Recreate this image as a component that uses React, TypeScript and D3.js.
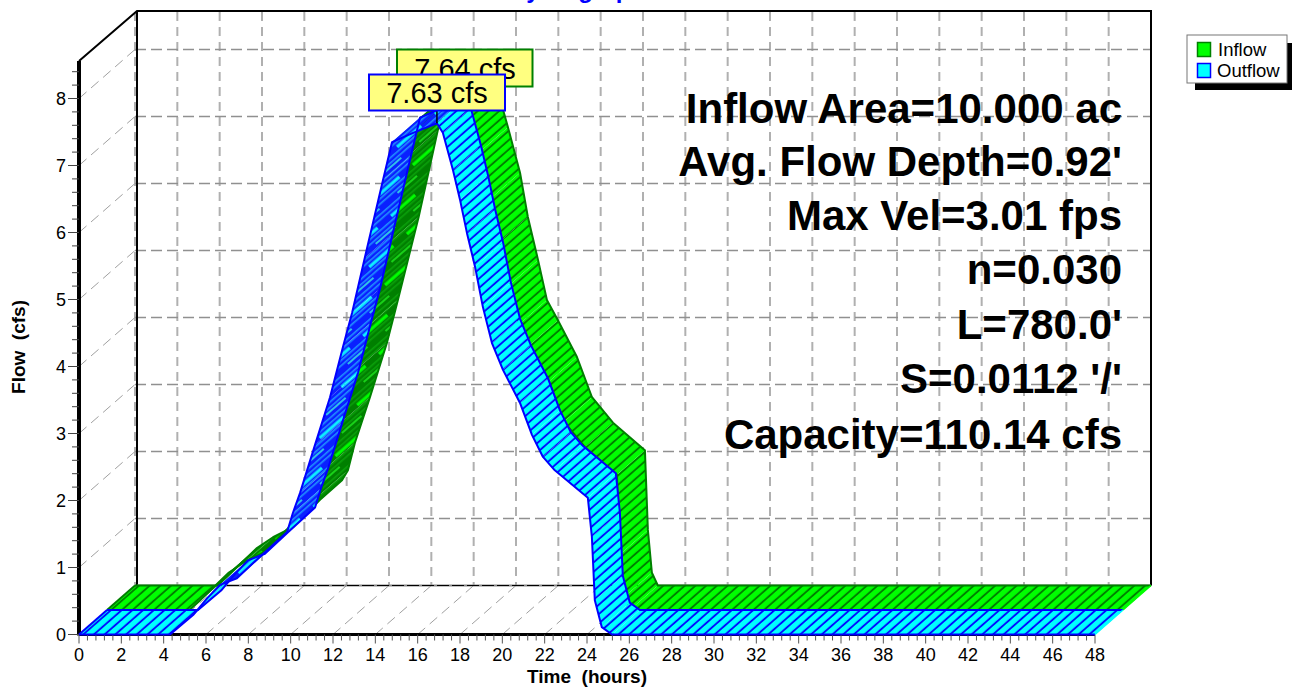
import React from "react";
import * as d3 from "d3";

const outflowT = [0, 4.3, 5.39, 6.05, 6.66, 7.46, 8.55, 9.83, 10.1, 10.44, 11.15, 11.86, 12.47, 12.9, 13.5, 14.36, 14.79, 15.73, 16.91, 17.19, 17.67, 18.0, 18.33, 18.71, 19.08, 19.51, 20.03, 20.83, 21.4, 21.92, 22.48, 24.04, 24.23, 24.37, 24.7, 25.18, 48];
const outflowQ = [0, 0, 0.29, 0.54, 0.74, 0.84, 1.16, 1.53, 1.81, 2.11, 2.83, 3.54, 4.29, 4.8, 5.62, 6.78, 7.35, 7.48, 7.63, 7.49, 6.93, 6.49, 5.99, 5.49, 4.89, 4.35, 3.95, 3.46, 2.98, 2.65, 2.45, 2.04, 1.46, 0.51, 0.11, 0, 0];
const inflowT = [0, 3.9, 4.35, 5.76, 6.52, 7.46, 8.74, 9.78, 10.06, 10.39, 11.1, 11.9, 12.42, 13.4, 14.31, 14.8, 15.73, 16.91, 17.62, 18.19, 18.56, 19.04, 19.46, 19.98, 20.88, 21.59, 22.58, 24.09, 24.23, 24.42, 24.7, 48];
const inflowQ = [0, 0, 0.13, 0.56, 0.72, 0.87, 1.28, 1.57, 1.72, 2.13, 2.81, 3.62, 4.26, 5.5, 6.8, 7.35, 7.48, 7.64, 6.84, 6.16, 5.5, 4.86, 4.26, 3.96, 3.41, 2.81, 2.43, 2.02, 0.83, 0.19, 0, 0];

const xTicks = d3.range(0, 49, 2);
const xMinor = d3.range(0, 48.01, 0.4);
const yTicks = d3.range(0, 9, 1);
const yMinor = d3.range(0, 8.5, 0.2);
const infoLines = ["Inflow Area=10.000 ac", "Avg. Flow Depth=0.92'", "Max Vel=3.01 fps", "n=0.030", "L=780.0'", "S=0.0112 '/'", "Capacity=110.14 cfs"];
const infoBase = [123, 176, 230, 284, 339, 393, 449];

const x = d3.scaleLinear().domain([0, 48]).range([79, 1095]);
const y = d3.scaleLinear().domain([0, 8]).range([634.5, 98.5]);
const DX = 56, DY = -49;
const ANG = -41.2;
const font = "'Liberation Sans', Arial, sans-serif";

function Ribbon({ t, q, off, fill, edge, hatch, dense }: any) {
  const o0 = off, o1 = off + 0.5;
  const p = (i: number, o: number): [number, number] => [x(t[i]) + o * DX, y(q[i]) + o * DY];
  const line = d3.line();
  const front = t.map((_: number, i: number) => p(i, o0));
  const back = t.map((_: number, i: number) => p(i, o1));
  const n = t.length;
  return (
    <g>
      {d3.range(n - 1).map((i) => {
        const poly = [p(i, o0), p(i + 1, o0), p(i + 1, o1), p(i, o1)] as [number, number][];
        const rising = q[i + 1] > q[i];
        return <path key={i} d={line(poly) + "Z"} fill={rising ? `url(#${dense})` : `url(#${hatch})`} stroke="none" />;
      })}
      <path d={line(front) || ""} fill="none" stroke={edge} strokeWidth={2} strokeLinejoin="round" />
      <path d={line(back) || ""} fill="none" stroke={edge} strokeWidth={2} strokeLinejoin="round" />
      <path d={line([p(0, o0), p(0, o1)]) || ""} stroke={edge} strokeWidth={2} />
      <path d={line([p(n - 1, o0), p(n - 1, o1)]) || ""} stroke={fill} strokeWidth={1.5} />
    </g>
  );
}

function Hatch({ id, fill, ink }: any) {
  return (
    <pattern id={id} patternUnits="userSpaceOnUse" width={24} height={7.05} patternTransform={`rotate(${ANG})`}>
      <rect width={24} height={7.05} fill={fill} />
      <rect y={2.5} width={24} height={1.8} fill={ink} />
    </pattern>
  );
}

function Dense({ id, base, streak, streak2, mid }: any) {
  return (
    <pattern id={id} patternUnits="userSpaceOnUse" width={50} height={24} patternTransform={`rotate(${ANG})`}>
      <rect width={50} height={24} fill={base} />
      {[3, 7, 15, 19].map((v) => (
        <rect key={v} y={v} width={50} height={1.6} fill={mid} />
      ))}
      <rect x={2} y={10.5} width={32} height={3.2} fill={streak} />
      <rect x={22} y={22} width={26} height={2} fill={streak2} />
    </pattern>
  );
}

export default function App() {
  const vy0 = y(0), gridC = "#b0b0b0", hC = "#909090";
  const backX = (v: number) => x(v) + DX;
  const backY = (v: number) => y(v) + DY;
  return (
    <svg width={1294} height={688} style={{ position: "absolute", left: 0, top: 0, background: "#fff" }} fontFamily={font}>
      <defs>
        <Hatch id="hG" fill="#00ff00" ink="#007800" />
        <Hatch id="hB" fill="#00ffff" ink="#0000ff" />
        <Dense id="dG" base="#007f00" streak="#00ff00" streak2="#18d018" mid="#0aa00a" />
        <Dense id="dB" base="#0a20ff" streak="#0ff0ff" streak2="#30c0e8" mid="#2090ff" />
      </defs>

      <text x={577} y={-2} textAnchor="middle" fontWeight="bold" fontSize={24} fill="#0000ff">Hydrograph</text>

      {/* back-wall grid */}
      {xTicks.map((v) => (
        <line key={v} x1={backX(v)} x2={backX(v)} y1={12} y2={vy0 + DY} stroke={gridC} strokeWidth={2} strokeDasharray="9 6" />
      ))}
      {yTicks.slice(1).map((v) => (
        <line key={v} x1={backX(0)} x2={backX(48)} y1={backY(v)} y2={backY(v)} stroke={hC} strokeWidth={1.5} strokeDasharray="11 5" />
      ))}
      {/* diagonal grid */}
      {yTicks.slice(1).map((v) => (
        <line key={v} x1={x(0)} y1={y(v)} x2={backX(0)} y2={backY(v)} stroke="#a0a0a0" strokeWidth={1} strokeDasharray="10 6" />
      ))}
      {xTicks.slice(1).map((v) => (
        <line key={v} x1={x(v)} y1={vy0} x2={backX(v)} y2={vy0 + DY} stroke="#a0a0a0" strokeWidth={1} strokeDasharray="10 6" />
      ))}

      {/* frame */}
      <path d={`M${x(0)},61 L137,11 H1151 V${vy0 + DY}`} fill="none" stroke="#000" strokeWidth={2} />
      <line x1={137} x2={137} y1={11} y2={vy0 + DY} stroke="#000" strokeWidth={2} />
      <line x1={137} x2={1151} y1={vy0 + DY} y2={vy0 + DY} stroke="#888" strokeWidth={2} />
      <line x1={137} x2={1151} y1={vy0 + DY} y2={vy0 + DY} stroke="#000" strokeWidth={1} strokeDasharray="12 3" />
      <line x1={x(0)} x2={x(0)} y1={61} y2={vy0 + 1} stroke="#000" strokeWidth={4} />
      <line x1={x(0)} x2={x(48)} y1={vy0} y2={vy0} stroke="#000" strokeWidth={3} />

      {/* ticks */}
      {xMinor.map((v, i) => (
        <line key={i} x1={x(v)} x2={x(v)} y1={vy0} y2={vy0 + (i % 5 === 0 ? 9 : 6)} stroke="#555" strokeWidth={1} />
      ))}
      {yMinor.map((v, i) => (
        <line key={i} x1={x(0)} x2={x(0) - (i % 5 === 0 ? 11 : 7)} y1={y(v)} y2={y(v)} stroke="#444" strokeWidth={1} />
      ))}
      {xTicks.map((v) => (
        <text key={v} x={x(v)} y={661} textAnchor="middle" fontSize={18} fill="#000">{v}</text>
      ))}
      {yTicks.map((v) => (
        <text key={v} x={66} y={y(v) + 6.5} textAnchor="end" fontSize={18} fill="#000">{v}</text>
      ))}
      <text x={587} y={683} textAnchor="middle" fontWeight="bold" fontSize={19} xmlSpace="preserve">Time  (hours)</text>
      <text transform="translate(25,347) rotate(-90)" textAnchor="middle" fontWeight="bold" fontSize={19} xmlSpace="preserve">Flow  (cfs)</text>

      <Ribbon t={inflowT} q={inflowQ} off={0.5} fill="#00ff00" edge="#008000" hatch="hG" dense="dG" />
      <Ribbon t={outflowT} q={outflowQ} off={0} fill="#00ffff" edge="#0000ff" hatch="hB" dense="dB" />

      {/* peak labels */}
      <line x1={x(16.91)} x2={x(16.91)} y1={111} y2={y(7.63)} stroke="#000" strokeWidth={1.5} />
      <rect x={397} y={49.5} width={135.5} height={37} fill="#ffff80" stroke="#008000" strokeWidth={2} />
      <text x={465} y={79} textAnchor="middle" fontSize={29} fill="#000">7.64 cfs</text>
      <rect x={369} y={74.5} width={136} height={36} fill="#ffff80" stroke="#0000ff" strokeWidth={2} />
      <text x={437} y={103} textAnchor="middle" fontSize={29} fill="#000">7.63 cfs</text>

      {infoLines.map((s, i) => (
        <text key={s} x={1122} y={infoBase[i]} textAnchor="end" fontWeight="bold" fontSize={42} fill="#000">{s}</text>
      ))}

      {/* legend */}
      <rect x={1195} y={43} width={97} height={47} fill="#000" />
      <rect x={1187} y={35} width={100} height={48} fill="#fff" stroke="#777" strokeWidth={1} />
      <rect x={1197.5} y={42.5} width={13} height={14} fill="#00ff00" stroke="#008000" strokeWidth={1.5} />
      <text x={1218} y={56} fontSize={18.5} fill="#000">Inflow</text>
      <rect x={1197.5} y={63.5} width={13} height={14} fill="#00ffff" stroke="#0000ff" strokeWidth={1.5} />
      <text x={1217} y={77} fontSize={18.5} fill="#000">Outflow</text>
    </svg>
  );
}
